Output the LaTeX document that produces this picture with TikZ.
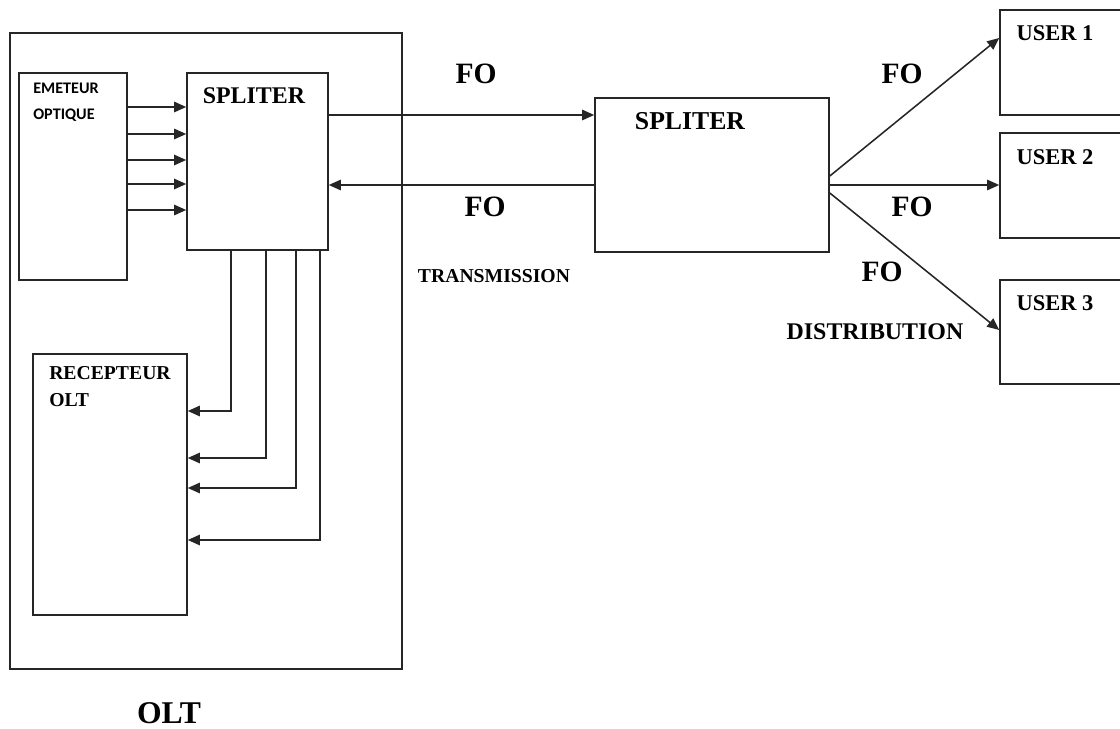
\documentclass[tikz,border=0pt]{standalone}
\usepackage{fontspec}
\setmainfont{Liberation Serif}
\newfontfamily\calfont{Carlito}
\usetikzlibrary{arrows.meta}

\begin{document}
\begin{tikzpicture}[x=0.025cm, y=-0.025cm,
    box/.style={draw=black!85, line width=1.1pt, inner sep=0pt},
    arr/.style={draw=black!85, line width=1.1pt, -{Triangle[length=3mm, width=2.6mm]}},
    txt/.style={inner sep=0pt, font=\bfseries}]
    \useasboundingbox (0,0) rectangle (1120,729);

    % OLT side
    \node[box, minimum width=9.8cm, minimum height=15.9cm] (olt) at (206,351) {};
    \node[box, minimum width=2.7cm, minimum height=5.175cm] (emet) at (73,176.5) {};
    \node[box, minimum width=3.525cm, minimum height=4.425cm] (splitA) at (257.5,161.5) {};
    \node[box, minimum width=3.85cm, minimum height=6.525cm] (recep) at (110,484.5) {};

    \node[txt, anchor=west, align=left, font=\calfont\bfseries\fontsize{11.5}{18.5}\selectfont] (emetT) at (33,102) {EMETEUR\\OPTIQUE};
    \node[txt, font=\bfseries\fontsize{17}{20}\selectfont] (splitAT) at (254,96) {SPLITER};
    \node[txt, anchor=west, align=left, font=\bfseries\fontsize{14}{19.2}\selectfont] (recepT) at (49,386.5) {RECEPTEUR\\OLT};
    \node[txt, font=\bfseries\fontsize{22.5}{26}\selectfont] (oltT) at (169,713) {OLT};

    \foreach \y in {107,134,160,184,210}
        \draw[arr] (emet.east |- 0,\y) -- (splitA.west |- 0,\y);
    \foreach \x/\y in {231/411, 266/458, 296/488, 320/540}
        \draw[arr] (splitA.south -| \x,0) |- (recep.east |- 0,\y);

    % transmission
    \node[box, minimum width=5.85cm, minimum height=3.85cm] (splitB) at (712,175) {};
    \node[txt, font=\bfseries\fontsize{18.3}{22}\selectfont] (splitBT) at (690,121) {SPLITER};
    \draw[arr] (splitA.east |- 0,115) -- (splitB.west |- 0,115);
    \draw[arr] (splitB.west |- 0,185) -- (splitA.east |- 0,185);
    \node[txt, font=\bfseries\fontsize{21}{24}\selectfont] (fo1) at (476,74) {FO};
    \node[txt, font=\bfseries\fontsize{21}{24}\selectfont] (fo2) at (485,207) {FO};
    \node[txt, font=\bfseries\fontsize{14}{17}\selectfont] (transT) at (494,276) {TRANSMISSION};

    % distribution
    \node[box, minimum width=3.25cm, minimum height=2.625cm] (user1) at (1065,62.5) {};
    \node[box, minimum width=3.25cm, minimum height=2.625cm] (user2) at (1065,185.5) {};
    \node[box, minimum width=3.25cm, minimum height=2.6cm] (user3) at (1065,332) {};
    \node[txt, font=\bfseries\fontsize{16}{19}\selectfont] (user1T) at (1055,33) {USER 1};
    \node[txt, font=\bfseries\fontsize{16}{19}\selectfont] (user2T) at (1055,157) {USER 2};
    \node[txt, font=\bfseries\fontsize{16}{19}\selectfont] (user3T) at (1055,303) {USER 3};

    \draw[arr] (splitB.east |- 0,176) -- (user1.west |- 0,38);
    \draw[arr] (splitB.east |- 0,185) -- (user2.west |- 0,185);
    \draw[arr] (splitB.east |- 0,193) -- (user3.west |- 0,330);
    \node[txt, font=\bfseries\fontsize{21}{24}\selectfont] (fo3) at (902,74) {FO};
    \node[txt, font=\bfseries\fontsize{21}{24}\selectfont] (fo4) at (912,207) {FO};
    \node[txt, font=\bfseries\fontsize{21}{24}\selectfont] (fo5) at (882,272) {FO};
    \node[txt, font=\bfseries\fontsize{17}{20}\selectfont] (distT) at (875,332) {DISTRIBUTION};
\end{tikzpicture}
\end{document}
